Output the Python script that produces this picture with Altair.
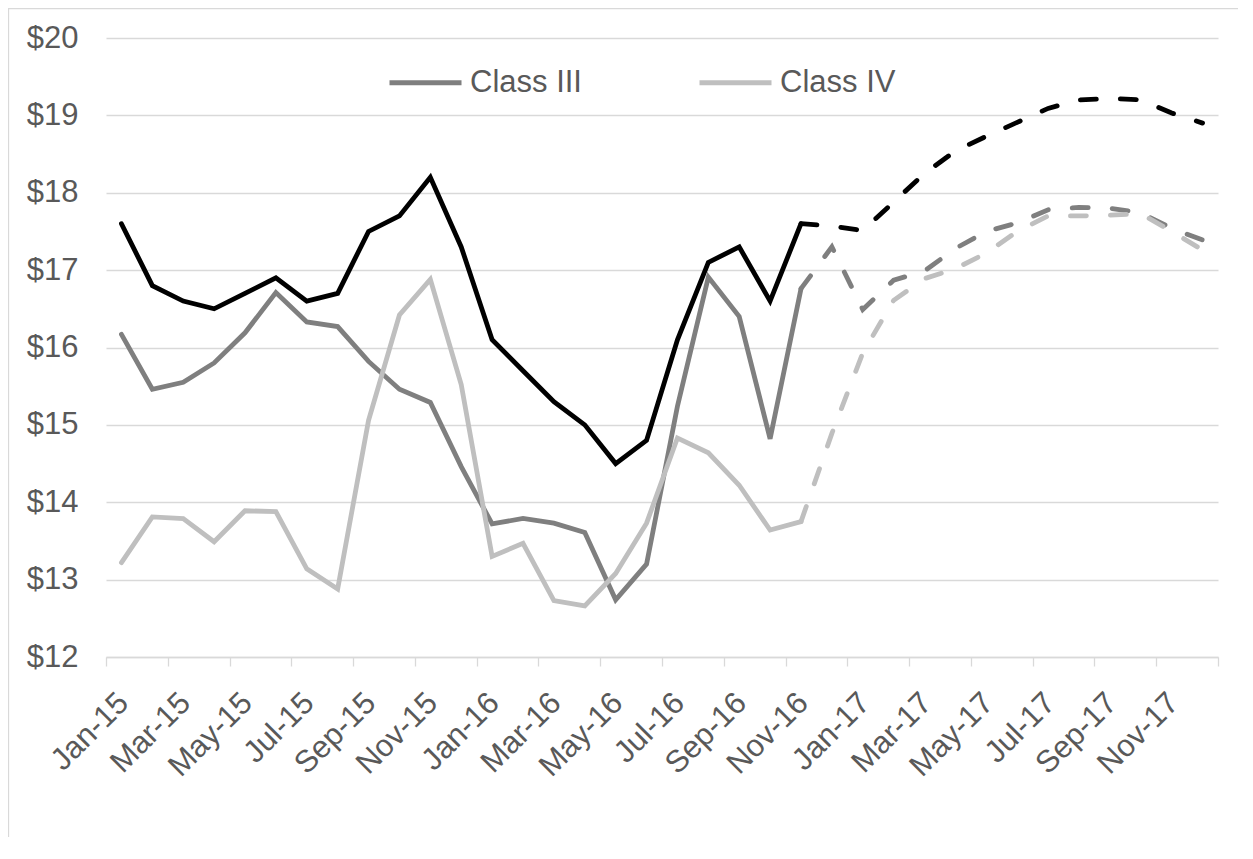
import altair as alt
import pandas as pd

months = ["Jan-15", "Feb-15", "Mar-15", "Apr-15", "May-15", "Jun-15",
          "Jul-15", "Aug-15", "Sep-15", "Oct-15", "Nov-15", "Dec-15",
          "Jan-16", "Feb-16", "Mar-16", "Apr-16", "May-16", "Jun-16",
          "Jul-16", "Aug-16", "Sep-16", "Oct-16", "Nov-16", "Dec-16",
          "Jan-17", "Feb-17", "Mar-17", "Apr-17", "May-17", "Jun-17",
          "Jul-17", "Aug-17", "Sep-17", "Oct-17", "Nov-17", "Dec-17"]

x_labels = ["Jan-15", "Mar-15", "May-15", "Jul-15", "Sep-15", "Nov-15",
            "Jan-16", "Mar-16", "May-16", "Jul-16", "Sep-16", "Nov-16",
            "Jan-17", "Mar-17", "May-17", "Jul-17", "Sep-17", "Nov-17"]

y_ticks = [12, 13, 14, 15, 16, 17, 18, 19, 20]

series_names = ["All Milk", "Class III", "Class IV"]
series_colors = ["#000000", "#7f7f7f", "#bfbfbf"]
legend_values = ["Class III", "Class IV"]

# Actual values Jan-15 .. Nov-16
all_milk_actual = [17.60, 16.80, 16.60, 16.50, 16.70, 16.90, 16.60, 16.70, 17.50, 17.70,
                   18.20, 17.30, 16.10, 15.70, 15.30, 15.00, 14.50, 14.80, 16.10, 17.10,
                   17.30, 16.60, 17.60]
class3_actual = [16.17, 15.46, 15.55, 15.80, 16.19, 16.71, 16.33, 16.27, 15.82, 15.46,
                 15.29, 14.46, 13.72, 13.79, 13.73, 13.61, 12.74, 13.20, 15.24, 16.91,
                 16.40, 14.82, 16.76]
class4_actual = [13.22, 13.81, 13.79, 13.49, 13.89, 13.88, 13.14, 12.88, 15.06, 16.42,
                 16.88, 15.52, 13.30, 13.47, 12.73, 12.66, 13.08, 13.73, 14.83, 14.64,
                 14.22, 13.64, 13.75]

# Forecast values Nov-16 .. Dec-17
forecast_start = 22
all_milk_forecast = [17.60, 17.57, 17.51, 17.88, 18.25, 18.54, 18.73, 18.91, 19.09, 19.20,
                     19.22, 19.20, 19.03, 18.90]
class3_forecast = [16.76, 17.30, 16.49, 16.87, 16.99, 17.28, 17.50, 17.61, 17.78, 17.81,
                   17.80, 17.74, 17.54, 17.39]
class4_forecast = [13.75, 14.89, 15.93, 16.61, 16.89, 17.02, 17.22, 17.50, 17.70, 17.70,
                   17.71, 17.73, 17.50, 17.26]

rows = []
for name, actual, forecast in [("All Milk", all_milk_actual, all_milk_forecast),
                               ("Class III", class3_actual, class3_forecast),
                               ("Class IV", class4_actual, class4_forecast)]:
    for i, v in enumerate(actual):
        rows.append({"idx": i, "month": months[i], "series": name, "value": v, "segment": "actual"})
    for j, v in enumerate(forecast):
        i = forecast_start + j
        rows.append({"idx": i, "month": months[i], "series": name, "value": v, "segment": "forecast"})
df = pd.DataFrame(rows)

GRID = "#d9d9d9"
TEXT = "#595959"
FONT = "Liberation Sans"
W, H = 1112, 619
band = W / len(months)

label_arr = "[" + ",".join("'" + s + "'" for s in x_labels) + ",'']"
x_enc = alt.X(
    "idx:Q",
    scale=alt.Scale(domain=[-0.5, len(months) - 0.5], nice=False, zero=False),
    axis=alt.Axis(
        values=[-0.5 + 2 * k for k in range(len(x_labels) + 1)],
        labelExpr=label_arr + "[round((datum.value + 0.5) / 2)]",
        labelOffset=band / 2 + 2,
        labelAngle=-45, labelAlign="right", labelBaseline="middle",
        labelPadding=32, labelOverlap=False, labelFlush=False, labelBound=False,
        labelFontSize=31, labelFont=FONT, labelColor=TEXT,
        tickSize=9, tickColor=GRID, tickWidth=1.3,
        domainColor=GRID, domainWidth=1.3, grid=False, title=None,
    ),
)
y_enc = alt.Y(
    "value:Q",
    scale=alt.Scale(domain=[12, 20], nice=False, zero=False),
    axis=alt.Axis(
        values=y_ticks, labelExpr="'$' + datum.value",
        grid=True, gridColor=GRID, gridWidth=1.3,
        domain=False, ticks=False, labelPadding=28,
        labelFontSize=31, labelFont=FONT, labelColor=TEXT, title=None,
    ),
)
color_enc = alt.Color(
    "series:N",
    scale=alt.Scale(domain=series_names, range=series_colors),
    sort=series_names,
    legend=alt.Legend(
        values=legend_values, orient="none", legendX=281, legendY=6,
        direction="horizontal", symbolType="stroke", symbolSize=5184,
        symbolStrokeWidth=5, labelFontSize=31, labelFont=FONT, labelColor=TEXT,
        title=None, columnPadding=107, labelOffset=6, padding=0,
    ),
)

base = alt.Chart(df).encode(x=x_enc, y=y_enc, color=color_enc)
actual_layer = base.transform_filter(alt.datum.segment == "actual").mark_line(
    strokeWidth=4.8, strokeCap="round")
forecast_layer = base.transform_filter(alt.datum.segment == "forecast").mark_line(
    strokeWidth=4.8, strokeCap="round", strokeDash=[16, 24])

frame = alt.Chart(pd.DataFrame({"f": [0]})).mark_rect(
    filled=False, stroke=GRID, strokeWidth=1.3
).encode(x=alt.value(-97.5), x2=alt.value(1300), y=alt.value(-29.5), y2=alt.value(900))

chart = alt.layer(frame, actual_layer, forecast_layer).properties(
    width=W, height=H,
    autosize=alt.AutoSizeParams(type="none"),
    padding={"left": 98, "top": 30, "right": 20, "bottom": 180},
).configure_view(stroke=None)

chart.save("out.html", embed_options={"renderer": "svg", "actions": False})
